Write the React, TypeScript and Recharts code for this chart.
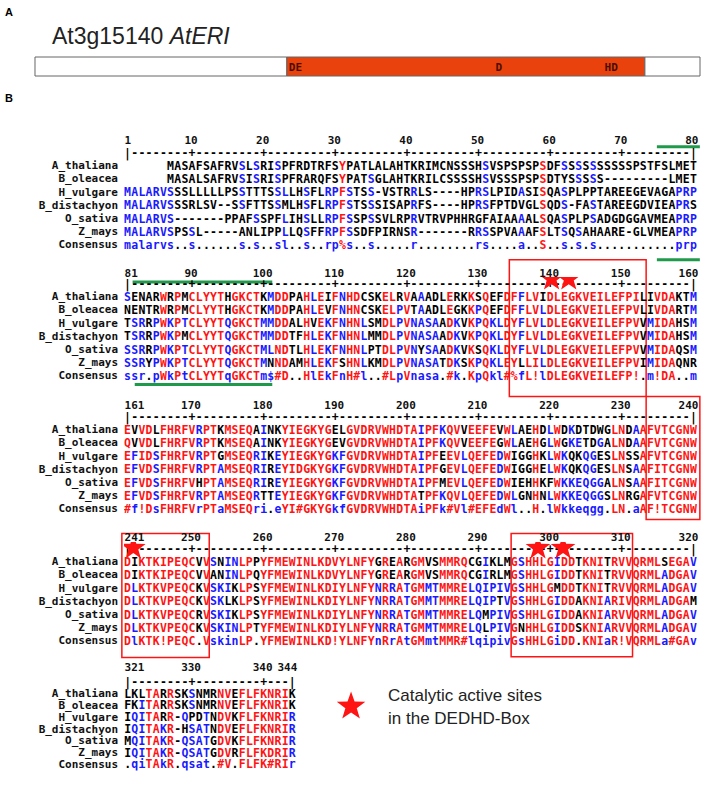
import React from 'react';
import {
  BarChart, Bar, ScatterChart, Scatter, XAxis, YAxis, ReferenceArea, ReferenceLine,
} from 'recharts';

const MONO = '"DejaVu Sans Mono", monospace';
const SANS = '"Liberation Sans", Arial, sans-serif';
const RED = '#ff1414';
const BLUE = '#1a1aff';
const GREEN = '#1f9a4a';
const ORANGE = '#e9420c';

// ---- panel A: gene model (residues, A. thaliana numbering) ----
const GENE = [{ name: 'At3g15140', nTerm: 128, exonuclease: 182, cTerm: 28 }];
const GENE_LENGTH = 338;
const MOTIFS = [
  { pos: 129, y: 0.5, label: 'DE' },
  { pos: 234, y: 0.5, label: 'D' },
  { pos: 289.5, y: 0.5, label: 'HD' },
];

// ---- panel B: alignment ----
const SPECIES = ['A_thaliana', 'B_oleacea', 'H_vulgare', 'B_distachyon', 'O_sativa', 'Z_mays'];
const ROW_LABELS = [...SPECIES, 'Consensus'];

const BLOCK_STARTS = [1, 81, 161, 241, 321];
const BLOCK_LENGTHS = [80, 80, 80, 80, 24];

const ALN_1 = [
  '      MASAFSAFRVSLSRISPFRDTRFSYPATLALAHTKRIMCNSSSHSVSPSPSPSDFSSSSSSSSSSPSTFSLMET',
  '      MASALSAFRVSISRISPFRARQFSYPATSGLAHTKRILCSSSSHSVSSSPSPSDTYSSSSS---------LMET',
  'MALARVSSSLLLLLPSSTTTSSLLHSFLRPFSTSS-VSTRRLS----HPRSLPIDASISQASPLPPTAREEGEVAGAPRP',
  'MALARVSSSRLSV--SSFTTSSMLHSFLRPFSTSSSISAPRFS----HPRSFPTDVGLSQDS-FASTAREEGDVIEAPRS',
  'MALARVS-------PPAFSSPFLIHSLLRPFSSPSSVLRPRVTRVPHHRGFAIAAAALSQASPLPSADGDGGAVMEAPRP',
  'MALARVSPSSL-----ANLIPPLLQSFFRPFSSDFPIRNSR-------RRSSPVAAAFSLTSQSAHAARE-GLVMEAPRP',
];
const CONS_1 = 'malarvs..s......s.s..sl..s..rp%s..s.....r........rs....a..S..s.s.s...........prp';

const ALN_81 = [
  'SENARWRPMCLYYTHGKCTKMDDPAHLEIFNHDCSKELRVAAADLERKKSQEFDFFLVIDLEGKVEILEFPILIVDAKTM',
  'NENTRWRPMCLYYTHGKCTKMDDPAHLEVFNHNCSKELPVTAADLEGKKPQEFDFFLVLDLEGKVEILEFPVLIVDARTM',
  'TSRRPWKPTCLYYTQGKCTMMDDALHVEKFNHNLSMDLPVNASAADKVKPQKLDYFLVLDLEGKVEILEFPVVMIDAHSM',
  'TSRRPWKPMCLYYTQGKCTMMDDTFHLEKFNHNLMMDLPVNASAADKVKPQKLDYFLVLDLEGKVEILEFPVVMIDAHSM',
  'SSRRPWKPTCLYYTQGKCTMLNDTLHLEKFNHNLPTDLPVNYSAADKVKSQKLDYFLVLDLEGKVEILEFPVVMIDAQSM',
  'SSRYPWKPTCLYYTQGKCTMNNDAMHLEKFSHNLKMDLPVNASATDKSKPQKLEYLLILDLEGKVEILEFPVIMIDAQNR',
];
const CONS_81 = 'ssr.pWkPtCLYYTqGKCTm$#D..HlEkFnH#l..#LpVnasa.#k.KpQkl#%fL!lDLEGKVEILEFP!.m!DA..m';

const ALN_161 = [
  'EVVDLFHRFVRPTKMSEQAINKYIEGKYGELGVDRVWHDTAIPFKQVVEEFEVWLAEHDLWDKDTDWGLNDAAFVTCGNW',
  'QVVDLFHRFVRPTKMSEQAINKYIEGKYGEVGVDRVWHDTAIPFKQVVEEFEGWLAEHGLWGKETDGALNDAAFVTCGNW',
  'EFIDSFHRFVRPTGMSEQRIKEYIEGKYGKFGVDRVWHDTAIPFEEVLQEFEDWIGGHKLWKQKQGESLNSSAFVTCGNW',
  'EFVDSFHRFVRPTAMSEQRIREYIDGKYGKFGVDRVWHDTAIPFGEVLQEFEDWIGGHELWKQKQGESLNSAAFITCGNW',
  'EFVDSFHRFVHPTAMSEQRIREYIEGKYGKFGVDRVWHDTAIPFMEVLQEFEDWIEHHKFWKKEQGGALNSAAFITCGNW',
  'EFVDSFHRFVRPTAMSEQRTTEYIEGKYGKFGVDRVWHDTATPFKQVLQEFEDWLGNHNLWKKEQGGSLNRGAFVTCGNW',
];
const CONS_161 = '#f!DsFHRFVrPTaMSEQri.eYI#GKYGkfGVDRVWHDTAiPFk#Vl#EFEdWl..H.lWkkeqgg.LN.aAF!TCGNW';

const ALN_241 = [
  'DIKTKIPEQCVVSNINLPPYFMEWINLKDVYLNFYGREARGMVSMMRQCGIKLMGSHHLGIDDTKNITRVVQRMLSEGAV',
  'DIKTKIPEQCVVANINLPQYFMEWINLKDVYLNFYGREARGMVSMMRQCGIRLMGSHHLGIDDTKNITRVVQRMLADGAV',
  'DLKTKVPEQCKVSKIKLPSYFMEWINLKDIYLNFYNRRATGMMTMMRELQIPIVGSHHLGMDDTKNITRVVQRMLADGAV',
  'DLKTKVPEQCKVSKLKLPSYFMEWINLKDIYLNFYNRRATGMMTMMRELQIPTVGSHHLGIDDAKNIARIVQRMLADGAM',
  'DLKTKVPEQCRVSKIKLPSYFMEWINLKDIYLNFYNRRATGMMTMMRELQMPIVGSHHLGIDDAKNIARVVQRMLADGAV',
  'DLKTKVPEQCKVSKINLPTYFMEWINLKDIYLNFYNRRATGMMTMMRELQLPIVGNHHLGIDDSKNIARVVQRMLADGAV',
];
const CONS_241 = 'DlKTK!PEQC.VskinLP.YFMEWINLKD!YLNFYnRrAtGMmtMMR#lqipivGsHHLGiDD.KNIaR!VQRMLa#GAv';

const ALN_321 = [
  'LKLTARRSKSNMRNVEFLFKNRIK',
  'FKITARRSKSNMRNVEFLFKNRIK',
  'IQITARR-QPDTNDVKFLFKNRIR',
  'IQITAKR-HSATNDVEFLFKNRIR',
  'MQITAKR-QSATGDVKFLFKNRIR',
  'IQITAKR-QSATGDVRFLFKDRIR',
];
const CONS_321 = '.qiTAkR.qsat.#V.FLFK#RIr';

const ALIGNMENT = [ALN_1, ALN_81, ALN_161, ALN_241, ALN_321];
const CONSENSUS = [CONS_1, CONS_81, CONS_161, CONS_241, CONS_321];

const RULER_TICKS = [
  [1, 10, 20, 30, 40, 50, 60, 70, 80],
  [81, 90, 100, 110, 120, 130, 140, 150, 160],
  [161, 170, 180, 190, 200, 210, 220, 230, 240],
  [241, 250, 260, 270, 280, 290, 300, 310, 320],
  [321, 330, 340, 344],
];

// DEDDh boxes (alignment position, row units; row 0 = ruler)
const BOXES = [
  { block: 1, x1: 134.3, x2: 153.4, y1: -1.8, y2: 8.56 },
  { block: 2, x1: 233.4, x2: 240.9, y1: -1.52, y2: 7.8 },
  { block: 3, x1: 240.2, x2: 252.4, y1: -1.15, y2: 8.25 },
  { block: 3, x1: 294.55, x2: 311.5, y1: -1.15, y2: 8.2 },
];
const ACTIVE_SITES = [
  { block: 1, x: 140.2, y: -0.45 },
  { block: 1, x: 142.6, y: -0.45 },
  { block: 3, x: 241.8, y: -0.15 },
  { block: 3, x: 298.3, y: -0.15 },
  { block: 3, x: 301.8, y: -0.15 },
];
const LEGEND_STAR = [{ x: 352.2, y: 1.95 }];
const GREEN_MARKS = [
  { block: 0, x1: 74.9, x2: 80.9, y: -0.45 },
  { block: 1, x1: 154.9, x2: 160.9, y: -1.8 },
  { block: 1, x1: 81.7, x2: 101.2, y: -0.13 },
  { block: 1, x1: 82, x2: 101.2, y: 7.65 },
];

const LAYOUT = [
  { y0: 153, pitch: 13.2, labelY: 144 },
  { y0: 284, pitch: 13.2, labelY: 277 },
  { y0: 417, pitch: 13.2, labelY: 409 },
  { y0: 549, pitch: 13.2, labelY: 541 },
  { y0: 682, pitch: 11.8, labelY: 671 },
];

const GROUPS: Record<string, string> = { '!': 'IV', '$': 'LM', '%': 'FY', '#': 'NDQEBZ' };

function level(c: string, column: string[]) {
  if (c >= 'A' && c <= 'Z') return 2;
  if (c >= 'a' && c <= 'z') return 1;
  const g = GROUPS[c];
  if (!g) return 0;
  const f = column.filter((r) => g.includes(r)).length / column.length;
  return f >= 0.9 ? 2 : f >= 0.5 ? 1 : 0;
}

function matches(r: string, c: string) {
  const g = GROUPS[c];
  return g ? g.includes(r) : r === c.toUpperCase();
}

function buildPoints(b: number) {
  const start = BLOCK_STARTS[b];
  const len = BLOCK_LENGTHS[b];
  const rows = ALIGNMENT[b].map((s) => s.padEnd(len).slice(0, len));
  const cons = CONSENSUS[b].padEnd(len).slice(0, len);
  const pts: any[] = [];
  for (let i = 0; i < len; i++) {
    const pos = start + i;
    const rc = i === 0 || i === len - 1 ? '|' : pos % 10 === 0 ? '+' : '-';
    pts.push({ x: pos, y: 0, ch: rc, fill: '#000' });
    const column = rows.map((r) => r[i]);
    const c = cons[i];
    const lv = level(c, column);
    rows.forEach((r, k) => {
      const ch = r[i];
      if (ch === ' ') return;
      const fill = lv && matches(ch, c) ? (lv === 2 ? RED : BLUE) : '#000';
      pts.push({ x: pos, y: k + 1, ch, fill });
    });
    if (c !== ' ') pts.push({ x: pos, y: 7, ch: c, fill: lv === 2 ? RED : lv === 1 ? BLUE : '#000' });
  }
  return pts;
}

const Glyph = (p: any) => (
  <text x={p.cx} y={p.cy} textAnchor="middle" dominantBaseline="central"
    fontFamily={MONO} fontWeight="bold" fontSize={11.5} fill={p.payload.fill}>
    {p.payload.ch}
  </text>
);

// five-pointed star drawn around the scaled point
const makeStar = (R: number) => (p: any) => {
  const r = R * 0.4;
  const cy = p.cy + R * 0.1;
  let d = '';
  for (let k = 0; k < 10; k++) {
    const a = -Math.PI / 2 + (k * Math.PI) / 5;
    const rad = k % 2 === 0 ? R : r;
    d += `${k === 0 ? 'M' : 'L'}${p.cx + rad * Math.cos(a)},${cy + rad * Math.sin(a)}`;
  }
  return <path d={d + 'Z'} fill={RED} />;
};
const SiteStar = makeStar(13);
const LegendStar = makeStar(15);

const RowTick = ({ x, y, payload }: any) => (
  <text x={x} y={y} textAnchor="end" dominantBaseline="central"
    fontFamily={MONO} fontWeight="bold" fontSize={11} fill="#111">
    {ROW_LABELS[payload.value - 1]}
  </text>
);

function AlignmentBlock({ b }: { b: number }) {
  const { y0, pitch, labelY } = LAYOUT[b];
  const axisH = 30;
  const bottom = 22;
  const plotTop = y0 - pitch / 2;
  const top = plotTop - axisH;
  const height = axisH + 8 * pitch + bottom;
  const start = BLOCK_STARTS[b];
  const ticks = RULER_TICKS[b];
  const last = ticks[ticks.length - 1];
  const dy = labelY - plotTop;
  const points = buildPoints(b);
  const stars = ACTIVE_SITES.filter((s) => s.block === b);

  const PosTick = ({ x, y, payload }: any) => {
    const v = payload.value;
    const anchor = v === start ? 'start' : v === last ? 'end' : 'middle';
    const dx = v === start ? -3 : v === last ? 5 : -1;
    return (
      <text x={x + dx} y={y + dy} textAnchor={anchor}
        fontFamily={MONO} fontWeight="bold" fontSize={11} fill="#111">
        {v}
      </text>
    );
  };

  return (
    <div style={{ position: 'absolute', left: 0, top }}>
      <ScatterChart width={708} height={height} margin={{ top: 0, right: 11, bottom, left: 0 }}>
        <XAxis type="number" dataKey="x" orientation="top" height={axisH}
          domain={[start - 0.5, start + 79.5]} ticks={ticks} interval={0} tick={PosTick}
          tickLine={false} axisLine={false} tickSize={0} tickMargin={0} allowDataOverflow />
        <YAxis type="number" dataKey="y" domain={[-0.5, 7.5]} reversed ticks={[1, 2, 3, 4, 5, 6, 7]}
          interval={0} tick={RowTick} width={124} tickLine={false} axisLine={false}
          tickSize={0} tickMargin={6} allowDataOverflow />
        <Scatter data={points} shape={Glyph} isAnimationActive={false} />
        {BOXES.filter((r) => r.block === b).map((r, i) => (
          <ReferenceArea key={`box${i}`} x1={r.x1} x2={r.x2} y1={r.y1} y2={r.y2} ifOverflow="visible"
            fill="none" fillOpacity={0} stroke={RED} strokeWidth={1.5} />
        ))}
        {GREEN_MARKS.filter((g) => g.block === b).map((g, i) => (
          <ReferenceLine key={`g${i}`} segment={[{ x: g.x1, y: g.y }, { x: g.x2, y: g.y }]}
            ifOverflow="visible" stroke={GREEN} strokeWidth={3} />
        ))}
        {stars.length > 0 && (
          <Scatter data={stars} shape={SiteStar} isAnimationActive={false} />
        )}
        {b === 4 && (
          <Scatter data={LEGEND_STAR} shape={LegendStar} isAnimationActive={false} />
        )}
      </ScatterChart>
    </div>
  );
}

const MotifText = (p: any) => (
  <text x={p.cx} y={p.cy + 1} dominantBaseline="central" fontFamily={MONO} fontSize={11}
    fontWeight="bold" fill="#4a0e00">
    {p.payload.label}
  </text>
);

export default function App() {
  return (
    <div style={{ position: 'absolute', left: 0, top: 0, width: 708, height: 788, background: '#fff' }}>
      <div style={{ position: 'absolute', left: 5, top: 6, fontFamily: SANS, fontWeight: 'bold', fontSize: 11 }}>A</div>
      <div style={{ position: 'absolute', left: 52, top: 23, fontFamily: SANS, fontSize: 23, color: '#222', whiteSpace: 'nowrap' }}>
        At3g15140 <i>AtERI</i>
      </div>
      <div style={{ position: 'absolute', left: 0, top: 56 }}>
        <BarChart width={708} height={21} data={GENE} layout="vertical"
          margin={{ top: 1, right: 8, bottom: 1, left: 35 }} barCategoryGap={0}>
          <XAxis type="number" hide domain={[0, GENE_LENGTH]} />
          <YAxis type="category" dataKey="name" hide />
          <Bar dataKey="nTerm" stackId="g" fill="#fff" stroke="#666" isAnimationActive={false} />
          <Bar dataKey="exonuclease" stackId="g" fill={ORANGE} stroke="#666" isAnimationActive={false} />
          <Bar dataKey="cTerm" stackId="g" fill="#fff" stroke="#666" isAnimationActive={false} />
        </BarChart>
      </div>
      <div style={{ position: 'absolute', left: 0, top: 56 }}>
        <ScatterChart width={708} height={21} margin={{ top: 1, right: 8, bottom: 1, left: 35 }}>
          <XAxis type="number" dataKey="pos" hide domain={[0, GENE_LENGTH]} />
          <YAxis type="number" dataKey="y" hide domain={[0, 1]} />
          <Scatter data={MOTIFS} shape={MotifText} isAnimationActive={false} />
        </ScatterChart>
      </div>
      <div style={{ position: 'absolute', left: 5, top: 92, fontFamily: SANS, fontWeight: 'bold', fontSize: 11 }}>B</div>
      {[0, 1, 2, 3, 4].map((b) => <AlignmentBlock key={b} b={b} />)}
      <div style={{ position: 'absolute', left: 388, top: 684, fontFamily: SANS, fontSize: 17, lineHeight: '23px', color: '#222' }}>
        Catalytic active sites<br />in the DEDHD-Box
      </div>
    </div>
  );
}
